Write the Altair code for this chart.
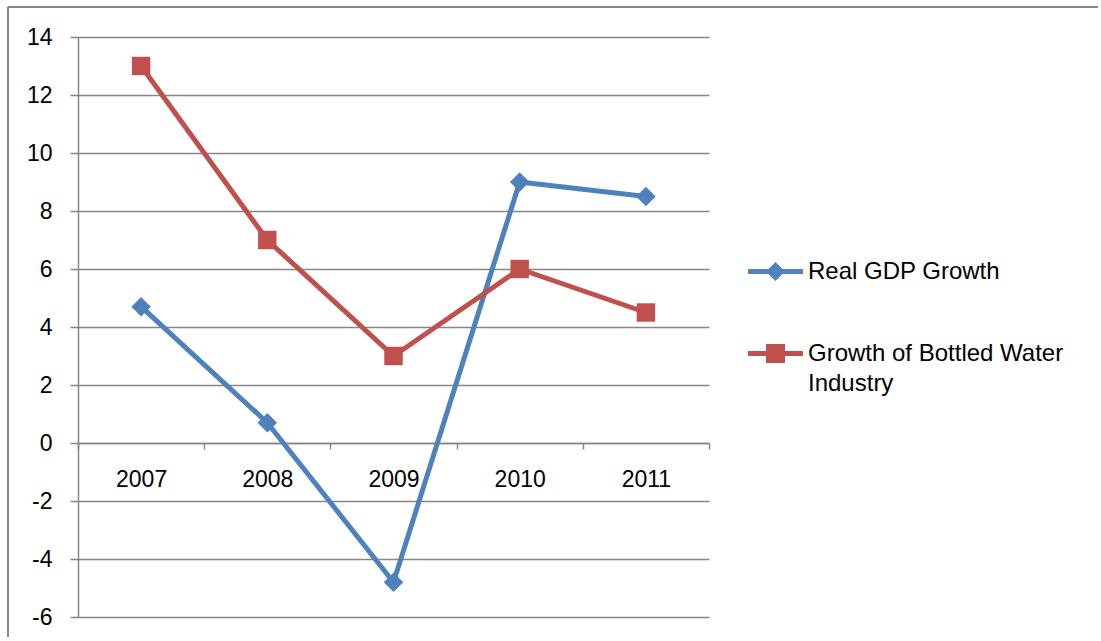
import altair as alt
import pandas as pd

years = ["2007", "2008", "2009", "2010", "2011"]
gdp_growth = [4.7, 0.7, -4.8, 9.0, 8.5]
water_growth = [13.0, 7.0, 3.0, 6.0, 4.5]
series_names = ["Real GDP Growth", "Growth of Bottled Water Industry"]
series_colors = ["#4F81BD", "#C0504D"]
y_ticks = [-6, -4, -2, 0, 2, 4, 6, 8, 10, 12, 14]

df = pd.DataFrame({
    "year": years + years,
    "value": gdp_growth + water_growth,
    "series": [series_names[0]] * len(years) + [series_names[1]] * len(years),
})

FONT = "Liberation Sans"
GRID = "#868686"

# legend symbols: line segment with marker (unit square -1..1)
diamond_leg = ("M-1,-0.09 L1,-0.09 L1,0.09 L-1,0.09 Z "
               "M0,-0.345 L0.345,0 L0,0.345 L-0.345,0 Z")
square_leg = ("M-1,-0.09 L1,-0.09 L1,0.09 L-1,0.09 Z "
              "M-0.345,-0.345 L0.345,-0.345 L0.345,0.345 L-0.345,0.345 Z")

legend_kw = dict(
    title=None, orient="none", legendX=670, legendY=207, direction="vertical",
    symbolSize=3025, symbolStrokeWidth=0, labelFont=FONT, labelFontSize=24,
    labelColor="#000000", labelOffset=5, rowPadding=42, labelLimit=400,
    labelExpr=("datum.label == '" + series_names[1] + "' ? "
               "['Growth of Bottled Water', 'Industry'] : datum.label"),
)

x_enc = alt.X(
    "year:O",
    bandPosition=0.5,
    scale=alt.Scale(type="band", paddingInner=0, paddingOuter=0),
    axis=alt.Axis(
        title=None, orient="bottom", offset=-174, tickBand="extent",
        labelAngle=0, grid=False, domainColor=GRID, domainWidth=1.5,
        tickColor=GRID, tickWidth=1.5, tickSize=6, labelPadding=19,
        labelFont=FONT, labelFontSize=23, labelColor="#000000",
    ),
)
y_enc = alt.Y(
    "value:Q",
    scale=alt.Scale(domain=[-6, 14], nice=False, zero=False),
    axis=alt.Axis(
        title=None, values=y_ticks, grid=True, gridColor=GRID, gridWidth=1.5,
        domainColor=GRID, domainWidth=1.5, tickColor=GRID, tickWidth=1.5,
        tickSize=8, labelPadding=18, labelFont=FONT, labelFontSize=23,
        labelColor="#000000", labelExpr="'' + datum.value",
    ),
)
color_enc = alt.Color(
    "series:N",
    scale=alt.Scale(domain=series_names, range=series_colors),
    legend=alt.Legend(**legend_kw),
)
shape_enc = alt.Shape(
    "series:N",
    scale=alt.Scale(domain=series_names, range=[diamond_leg, square_leg]),
    legend=alt.Legend(**legend_kw),
)

base = alt.Chart(df)

lines = base.mark_line(strokeWidth=5, strokeJoin="round", strokeCap="round").encode(
    x=x_enc, y=y_enc, color=color_enc, detail="series:N"
)
pts_gdp = base.transform_filter(alt.datum.series == series_names[0]).mark_point(
    shape="diamond", filled=True, size=380, opacity=1
).encode(x=x_enc, y=y_enc, color=color_enc)
pts_water = base.transform_filter(alt.datum.series == series_names[1]).mark_point(
    shape="square", filled=True, size=340, opacity=1
).encode(x=x_enc, y=y_enc, color=color_enc)
legend_layer = base.mark_point(filled=True, size=0).encode(
    x=x_enc, y=y_enc, color=color_enc, shape=shape_enc
)

border_top = alt.Chart().mark_rule(color=GRID, strokeWidth=2).encode(
    x=alt.value(-70), x2=alt.value(1020), y=alt.value(-30)
)
border_left = alt.Chart().mark_rule(color=GRID, strokeWidth=2).encode(
    x=alt.value(-70), y=alt.value(-30), y2=alt.value(600)
)

chart = alt.layer(
    border_top, border_left, lines, pts_gdp, pts_water, legend_layer, data=df
).properties(
    width=631, height=580,
    padding={"left": 7, "top": 6, "right": 0, "bottom": 0},
    background="white",
).configure(
    style={"guide-label": {"lineHeight": 30}}
).configure_view(
    stroke=None
)

chart.save("out.html", embed_options={"renderer": "svg", "actions": False})
